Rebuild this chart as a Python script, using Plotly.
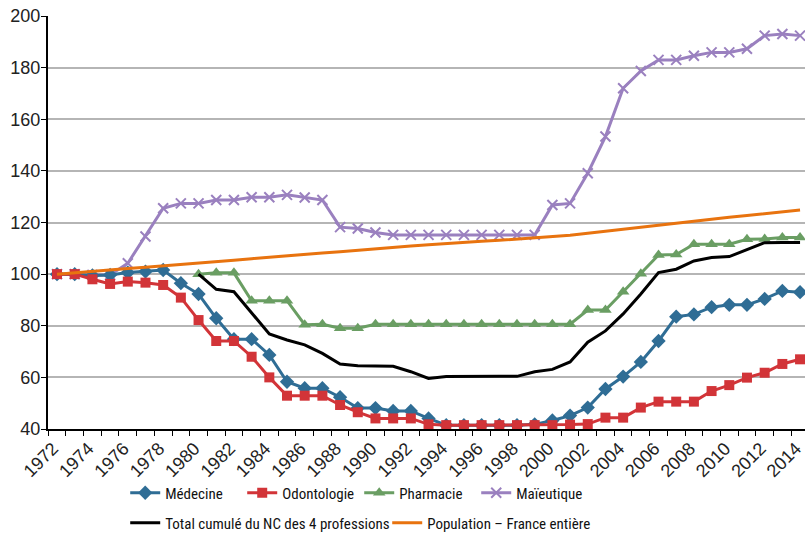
import plotly.graph_objects as go

# Years 1972-2014, index base 100 = 1972 (1980 for Pharmacie and total)
years = list(range(1972, 2015))

medecine = [100, 100, 99.5, 99.7, 100.6, 101, 101.6, 96.5, 92.3, 82.9,
            74.8, 74.8, 68.7, 58.3, 55.8, 55.8, 52.3, 48.1, 48.1, 47, 47,
            44.1, 41.5, 41.5, 41.5, 41.5, 41.5, 41.8, 43.3, 45.2, 48.3,
            55.5, 60.3, 66, 74.1, 83.5, 84.4, 87.2, 88.1, 88.1, 90.4,
            93.5, 93]

odontologie = [100, 100, 98, 96.2, 97.1, 96.7, 95.8, 90.9, 82.2, 74.1,
               74.1, 68, 60, 52.9, 52.9, 52.9, 49.3, 46.5, 44.1, 44.1, 44.1,
               41.8, 41.5, 41.5, 41.5, 41.5, 41.5, 41.5, 41.5, 41.7, 41.9,
               44.4, 44.4, 48.3, 50.6, 50.6, 50.6, 54.7, 57, 59.9, 61.8,
               65.2, 67]

pharmacie = [None] * 8 + [100, 100.5, 100.5, 89.7, 89.7, 89.7, 80.4, 80.6,
                          79, 79, 80.6, 80.6, 80.6, 80.6, 80.6, 80.6, 80.6,
                          80.6, 80.6, 80.6, 80.6, 80.6, 86.1, 86.1, 93.2,
                          100.1, 107.4, 107.6, 111.6, 111.6, 111.6, 113.5,
                          113.6, 114.2, 114.2]

maieutique = [100, 100, 99.7, 99.7, 104.2, 114.6, 125.5, 127.4, 127.4, 128.7,
              128.7, 129.8, 129.8, 130.7, 129.7, 128.7, 118.2, 117.7, 116.1,
              115.2, 115.2, 115.2, 115.2, 115.2, 115.2, 115.2, 115.2, 115.2,
              126.8, 127.4, 139.1, 153.3, 172, 178.7, 183, 183, 184.6, 185.9,
              185.9, 187.3, 192.4, 193, 192.4]

total_nc = [None] * 8 + [100, 94.1, 93.2, 84.8, 76.8, 74.5, 72.6, 69.3, 65.2,
                         64.5, 64.3, 64.3, 62.2, 59.6, 60.3, 60.4, 60.4, 60.4,
                         60.4, 62.2, 63.1, 66, 73.6, 78, 84.6, 92.3, 100.6,
                         101.9, 105.1, 106.4, 106.8, 109.4, 112.2, 112.3,
                         112.3]

population = [100, 100.6, 101.2, 101.7, 102.2, 102.7, 103.2, 103.7, 104.2,
              104.8, 105.4, 106, 106.6, 107.2, 107.7, 108.2, 108.7, 109.3,
              109.9, 110.4, 110.9, 111.4, 111.9, 112.3, 112.7, 113.1, 113.6,
              114.0, 114.5, 115.1, 115.8, 116.6, 117.4, 118.2, 119.0, 119.8,
              120.6, 121.3, 122.0, 122.7, 123.4, 124.1, 124.8]

year_labels = list(range(1972, 2015, 2))

BLUE = "#2F6D95"
RED = "#D23438"
GREEN = "#6A9E63"
PURPLE = "#9A80BF"
ORANGE = "#E8730F"

fig = go.Figure()

# Maïeutique drawn first so the red squares sit on top of it
fig.add_trace(go.Scatter(
    x=years, y=maieutique, name="Maïeutique", mode="lines+markers",
    line=dict(color=PURPLE, width=3),
    marker=dict(symbol="x-thin", size=10, line=dict(color=PURPLE, width=2)),
    legend="legend", legendrank=4,
))
fig.add_trace(go.Scatter(
    x=years, y=medecine, name="Médecine", mode="lines+markers",
    line=dict(color=BLUE, width=3),
    marker=dict(symbol="diamond", size=11, color=BLUE),
    legend="legend", legendrank=1,
))
fig.add_trace(go.Scatter(
    x=years, y=odontologie, name="Odontologie", mode="lines+markers",
    line=dict(color=RED, width=3),
    marker=dict(symbol="square", size=10, color=RED),
    legend="legend", legendrank=2,
))
fig.add_trace(go.Scatter(
    x=years, y=pharmacie, name="Pharmacie", mode="lines+markers",
    line=dict(color=GREEN, width=3),
    marker=dict(symbol="triangle-up", size=11, color=GREEN),
    legend="legend", legendrank=3,
))
fig.add_trace(go.Scatter(
    x=years, y=total_nc, name="Total cumulé du NC des 4 professions",
    mode="lines", line=dict(color="black", width=3),
    legend="legend2", legendrank=5,
))
fig.add_trace(go.Scatter(
    x=years, y=population, name="Population – France entière",
    mode="lines", line=dict(color=ORANGE, width=3),
    legend="legend2", legendrank=6,
))

legend_font = dict(family="Roboto Condensed, Liberation Sans Narrow, DejaVu Sans Condensed, Roboto",
                   size=15, color="#111111")

fig.update_layout(
    width=805,
    height=535,
    margin=dict(l=48, r=0, t=16, b=106),
    plot_bgcolor="white",
    paper_bgcolor="white",
    font=dict(family="Arial, Liberation Sans, sans-serif", size=18, color="#222222"),
    # legends placed in container coordinates so they don't shrink the plot
    legend=dict(
        orientation="h", x=0.102, xanchor="left",
        yref="container", y=1 - 493 / 535, yanchor="middle",
        font=legend_font, entrywidth=72, traceorder="normal",
        bgcolor="rgba(0,0,0,0)",
    ),
    legend2=dict(
        orientation="h", x=0.102, xanchor="left",
        yref="container", y=1 - 523 / 535, yanchor="middle",
        font=legend_font, entrywidth=217, traceorder="normal",
        bgcolor="rgba(0,0,0,0)",
    ),
)

fig.update_xaxes(
    range=[1971.49, 2014.28],
    automargin=False,
    tickvals=year_labels,
    ticktext=[str(y) for y in year_labels],
    tickangle=-45,
    ticks="",
    ticklabelshift=-4,
    ticklabeloverflow="allow",
    showgrid=False,
    showline=True, linecolor="black", linewidth=2,
    minor=dict(tick0=1971.5, dtick=1, ticks="outside", ticklen=5,
               tickcolor="black", tickwidth=1, showgrid=False),
    zeroline=False,
)

fig.update_yaxes(
    range=[40, 200],
    automargin=False,
    dtick=20,
    ticks="outside", ticklen=5, tickcolor="black",
    ticklabelstandoff=-3,
    ticklabeloverflow="allow",
    showline=True, linecolor="black", linewidth=2,
    showgrid=True, gridcolor="#B5B5B5", gridwidth=1.5,
    zeroline=False,
)

# remove the default 8px page margin so the figure fills the window
fig.write_html("out.html", config={"displayModeBar": False},
               post_script="document.body.style.margin = '0px';")
